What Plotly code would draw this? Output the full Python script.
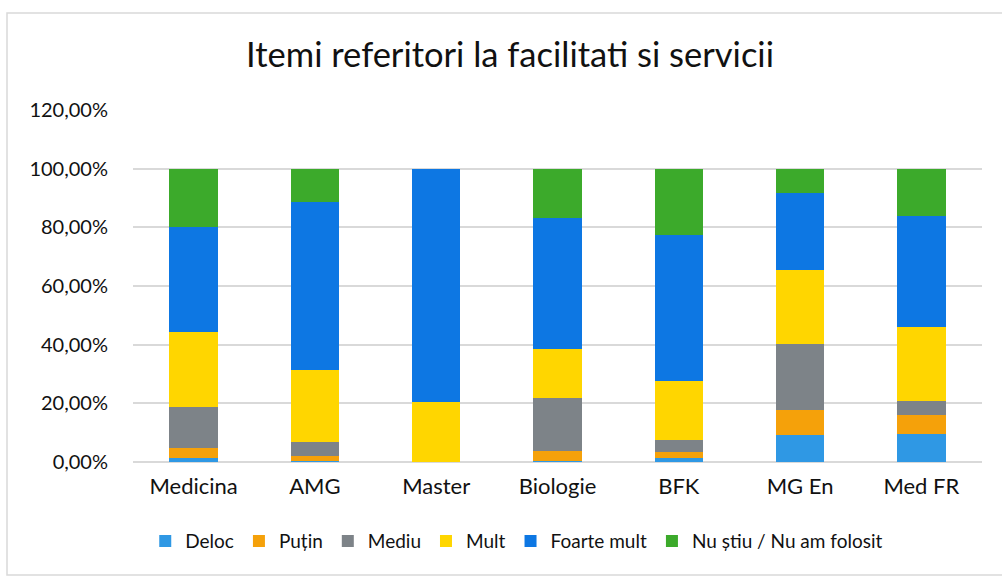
import plotly.graph_objects as go

# Study programmes on the x axis
categories = ["Medicina", "AMG", "Master", "Biologie", "BFK", "MG En", "Med FR"]

# Share of answers per rating level (fractions, stacked to 100%)
deloc = [0.015, 0.005, 0.0, 0.005, 0.014, 0.092, 0.095]
putin = [0.033, 0.015, 0.0, 0.032, 0.020, 0.085, 0.065]
mediu = [0.140, 0.048, 0.0, 0.181, 0.041, 0.226, 0.047]
mult = [0.256, 0.246, 0.205, 0.166, 0.200, 0.250, 0.254]
foarte_mult = [0.358, 0.573, 0.795, 0.449, 0.498, 0.265, 0.376]
nu_stiu = [0.198, 0.113, 0.0, 0.167, 0.227, 0.082, 0.163]

series_names = ["Deloc", "Puțin", "Mediu", "Mult", "Foarte mult", "Nu știu / Nu am folosit"]
series_values = [deloc, putin, mediu, mult, foarte_mult, nu_stiu]
series_colors = ["#2F98E4", "#F5A10A", "#7D8388", "#FFD600", "#0D77E3", "#3CAA2B"]

y_ticks = [0, 0.2, 0.4, 0.6, 0.8, 1.0, 1.2]

fig = go.Figure()
for name, vals, col in zip(series_names, series_values, series_colors):
    fig.add_trace(go.Bar(
        x=categories, y=vals, name=name,
        marker=dict(color=col, line=dict(width=0)),
    ))

font_family = "Lato, Open Sans, Liberation Sans, sans-serif"

fig.update_layout(
    barmode="stack",
    bargap=0.6,
    width=1002, height=578,
    margin=dict(l=133, r=20, t=110, b=116),
    paper_bgcolor="white",
    plot_bgcolor="white",
    separators=",.",
    font=dict(family=font_family, color="#111111"),
    title=dict(
        text="Itemi referitori la facilitati si servicii",
        x=0.509, xanchor="center", y=0.905, yanchor="middle",
        font=dict(size=34.5, family=font_family, color="#111111"),
    ),
    legend=dict(
        orientation="h", x=0.452, xanchor="center", y=-0.225, yanchor="middle",
        font=dict(size=19, family=font_family, color="#111111"),
        itemwidth=30, traceorder="normal",
    ),
    xaxis=dict(
        showgrid=False, showline=False, ticks="",
        tickfont=dict(size=22, family=font_family, color="#111111"),
        ticklabelstandoff=9,
    ),
    yaxis=dict(
        range=[0, 1.2], tickvals=y_ticks, tickformat=".2%",
        showgrid=True, gridcolor="#D9D9D9", gridwidth=1.5,
        zeroline=True, zerolinecolor="#D9D9D9", zerolinewidth=1.5,
        showline=False, ticks="",
        tickfont=dict(size=20, family=font_family, color="#111111"),
        ticklabelstandoff=24,
    ),
    shapes=[dict(
        type="rect", xref="paper", yref="paper",
        x0=(7 - 133) / 849, x1=(1010 - 133) / 849,
        y0=(462 - 575) / 352, y1=(462 - 13) / 352,
        line=dict(color="#D9D9D9", width=1.5), fillcolor="rgba(0,0,0,0)",
        layer="below",
    )],
)

fig.write_html("out.html")
